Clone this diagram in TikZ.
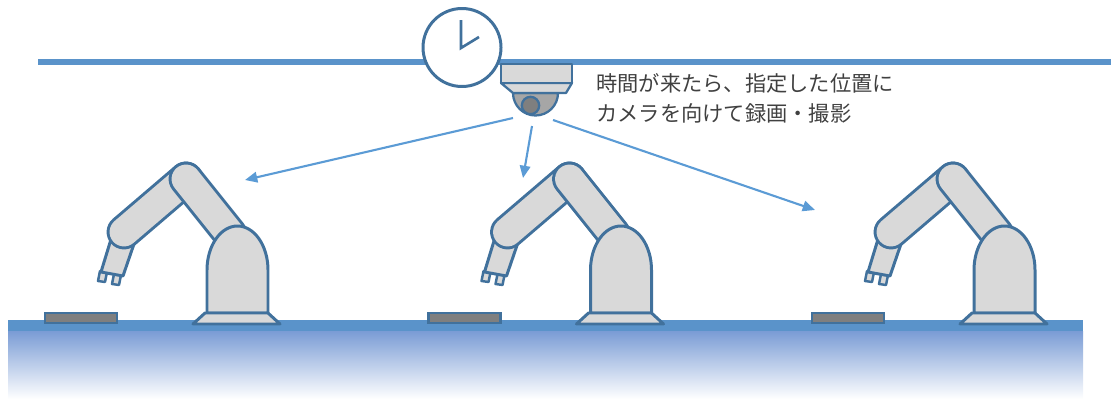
\documentclass[tikz,border=0pt]{standalone}
\usepackage{fontspec}
\newfontfamily\jpfont{Noto Sans CJK JP}
\usetikzlibrary{arrows.meta}

\definecolor{lineblue}{HTML}{5A93CA}
\definecolor{edgeblue}{HTML}{41719C}
\definecolor{arrowblue}{HTML}{5B9BD5}
\definecolor{armgray}{HTML}{D9D9D9}
\definecolor{traygray}{HTML}{7F7F7F}
\definecolor{domegray}{HTML}{A6A6A6}
\definecolor{textgray}{HTML}{404040}
\definecolor{floortop}{RGB}{122,156,213}

\tikzset{
  part/.style={draw=edgeblue, fill=armgray, line width=1.7pt, line join=round},
  armedge/.style={edgeblue, line width=19.8pt, line cap=round},
  armfill/.style={armgray, line width=16.4pt, line cap=round},
  look/.style={draw=arrowblue, line width=1.2pt, -{Triangle[length=7pt,width=6pt]}},
  caption/.style={anchor=base west, inner sep=0pt, text=textgray, font=\jpfont\fontsize{12.1pt}{17pt}\selectfont},
}

\begin{document}
\begin{tikzpicture}[x=0.02cm, y=-0.02cm]
    \useasboundingbox (0,0) rectangle (1111,399);

    \draw [lineblue, line width=3.8pt] (38,62) -- (1111,62);

    % floor
    \fill [lineblue] (8,320) rectangle (1083,331);
    \shade [top color=floortop, bottom color=white] (8,331) rectangle (1083,399);

    % three robots with their trays
    \foreach \dx in {0,383.5,767} {
      \begin{scope}[shift={(\dx,0)}]
        \draw [draw=edgeblue, fill=traygray, line width=1.3pt] (45,313) rectangle (117,323);
        \draw [part, line width=1.4pt] (100,271) -- (98,281) -- (105,282) -- (107,272) -- cycle;
        \draw [part, line width=1.4pt] (114,274) -- (112,284) -- (119,285) -- (121,275) -- cycle;
        \draw [part] (112,236) -- (101,272) -- (123,276) -- (135,241) -- cycle;
        \draw [armedge] (186,179) -- (124,232);
        \draw [armfill] (186,179) -- (124,232);
        \draw [armedge] (230,234) -- (186,179);
        \draw [armfill] (230,234) -- (186,179);
        \draw [part] (207,313) -- (207,270) arc [start angle=180, end angle=360, x radius=30.5, y radius=44] -- (268,313) -- cycle;
        \draw [part] (205,313) -- (268,313) -- (280,324) -- (193,324) -- cycle;
      \end{scope}
    }

    % clock
    \draw [draw=edgeblue, fill=white, line width=1.7pt] (462,47.5) circle (39);
    \draw [edgeblue, line width=1.5pt] (461,20) -- (461,48) -- (479,37);

    % camera
    \draw [part, fill=domegray, line width=1.3pt] (513,93) arc [start angle=180, end angle=0, radius=22.5] -- cycle;
    \draw [part, fill=traygray, line width=1.3pt] (530.5,105.5) circle (8.7);
    \draw [part, line width=1.3pt] (501,83) -- (572,83) -- (566,93) -- (513,93) -- cycle;
    \draw [part, line width=1.3pt] (501,64) rectangle (572,83);

    \node [caption] (line1) at (596,91.5) {時間が来たら、指定した位置に};
    \node [caption] (line2) at (596,121.5) {カメラを向けて録画・撮影};

    \coordinate (cam1) at (513,118);
    \coordinate (cam2) at (532,126);
    \coordinate (cam3) at (553,120);
    \coordinate (aim1) at (245,180);
    \coordinate (aim2) at (523,178);
    \coordinate (aim3) at (815,210);
    \draw [look] (cam1) -- (aim1);
    \draw [look] (cam2) -- (aim2);
    \draw [look] (cam3) -- (aim3);
\end{tikzpicture}
\end{document}
